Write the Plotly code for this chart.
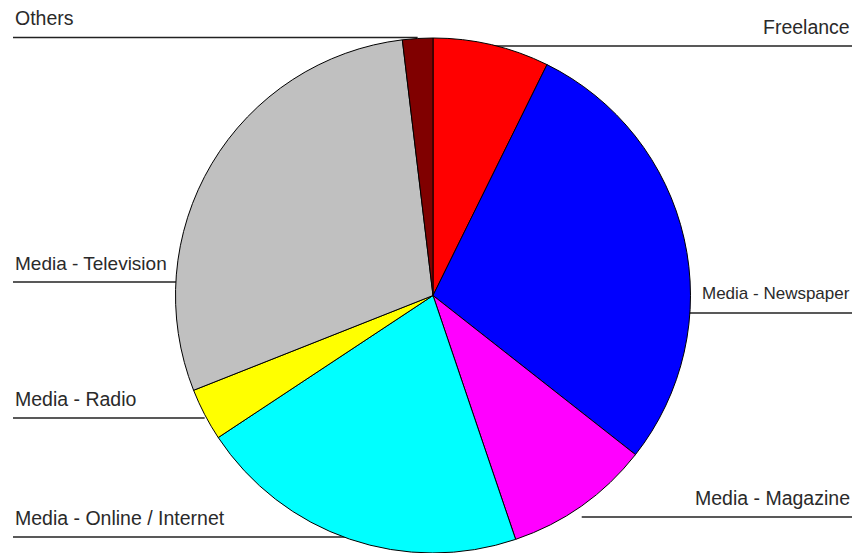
import math
import plotly.graph_objects as go

# ---- data ----
labels = ["Freelance", "Media - Newspaper", "Media - Magazine", "Media - Online / Internet",
          "Media - Radio", "Media - Television", "Others"]
values = [7.3, 28.3, 9.2, 20.9, 3.3, 29.1, 1.9]
colors = ["#FF0000", "#0000FF", "#FF00FF", "#00FFFF", "#FFFF00", "#C0C0C0", "#800000"]

# ---- layout config (pixels) ----
W, H = 855, 553
CX, CY, R = 433, 295.5, 257.5          # pie centre / radius in px (from top-left)
label_side = ["right", "right", "right", "left", "left", "left", "left"]
label_line_y = [46, 313, 517, 537, 418, 282, 37.5]
label_font = [19.5, 17, 19.5, 19.5, 19.5, 19, 19.5]
LEFT_X, RIGHT_X = 13, 852

def px(x):
    return x / W

def py(y):
    return 1 - y / H

fig = go.Figure(go.Pie(
    labels=labels, values=values, sort=False, direction="clockwise", rotation=0,
    marker=dict(colors=colors, line=dict(color="#000000", width=1)),
    textinfo="none", hoverinfo="label+percent", showlegend=False,
    domain=dict(x=[px(CX - R), px(CX + R)], y=[py(CY + R), py(CY - R)]),
))

shapes, annotations = [], []
total = sum(values)
cum = 0.0
for lab, v, side, ly, fs in zip(labels, values, label_side, label_line_y, label_font):
    mid = (cum + v / 2) / total * 2 * math.pi
    cum += v
    ex = CX + R * math.sin(mid)          # leader line runs under the pie to the slice
    x0, x1 = (LEFT_X, ex) if side == "left" else (ex, RIGHT_X)
    shapes.append(dict(type="line", xref="paper", yref="paper", layer="below",
                       x0=px(x0), x1=px(x1), y0=py(ly), y1=py(ly),
                       line=dict(color="#222222", width=1.6)))
    annotations.append(dict(
        text=lab, showarrow=False, xref="paper", yref="paper",
        x=px(LEFT_X if side == "left" else RIGHT_X), y=py(ly - 19),
        xanchor=side, yanchor="middle",
        font=dict(family="Liberation Sans, Arial, sans-serif", size=fs, color="#2a2a2a")))

fig.update_layout(
    width=W, height=H, margin=dict(l=0, r=0, t=0, b=0),
    paper_bgcolor="white", plot_bgcolor="white",
    shapes=shapes, annotations=annotations,
)
fig.write_html("out.html", config={"displayModeBar": False},
               post_script="document.body.style.margin='0';document.body.style.overflow='hidden';")
